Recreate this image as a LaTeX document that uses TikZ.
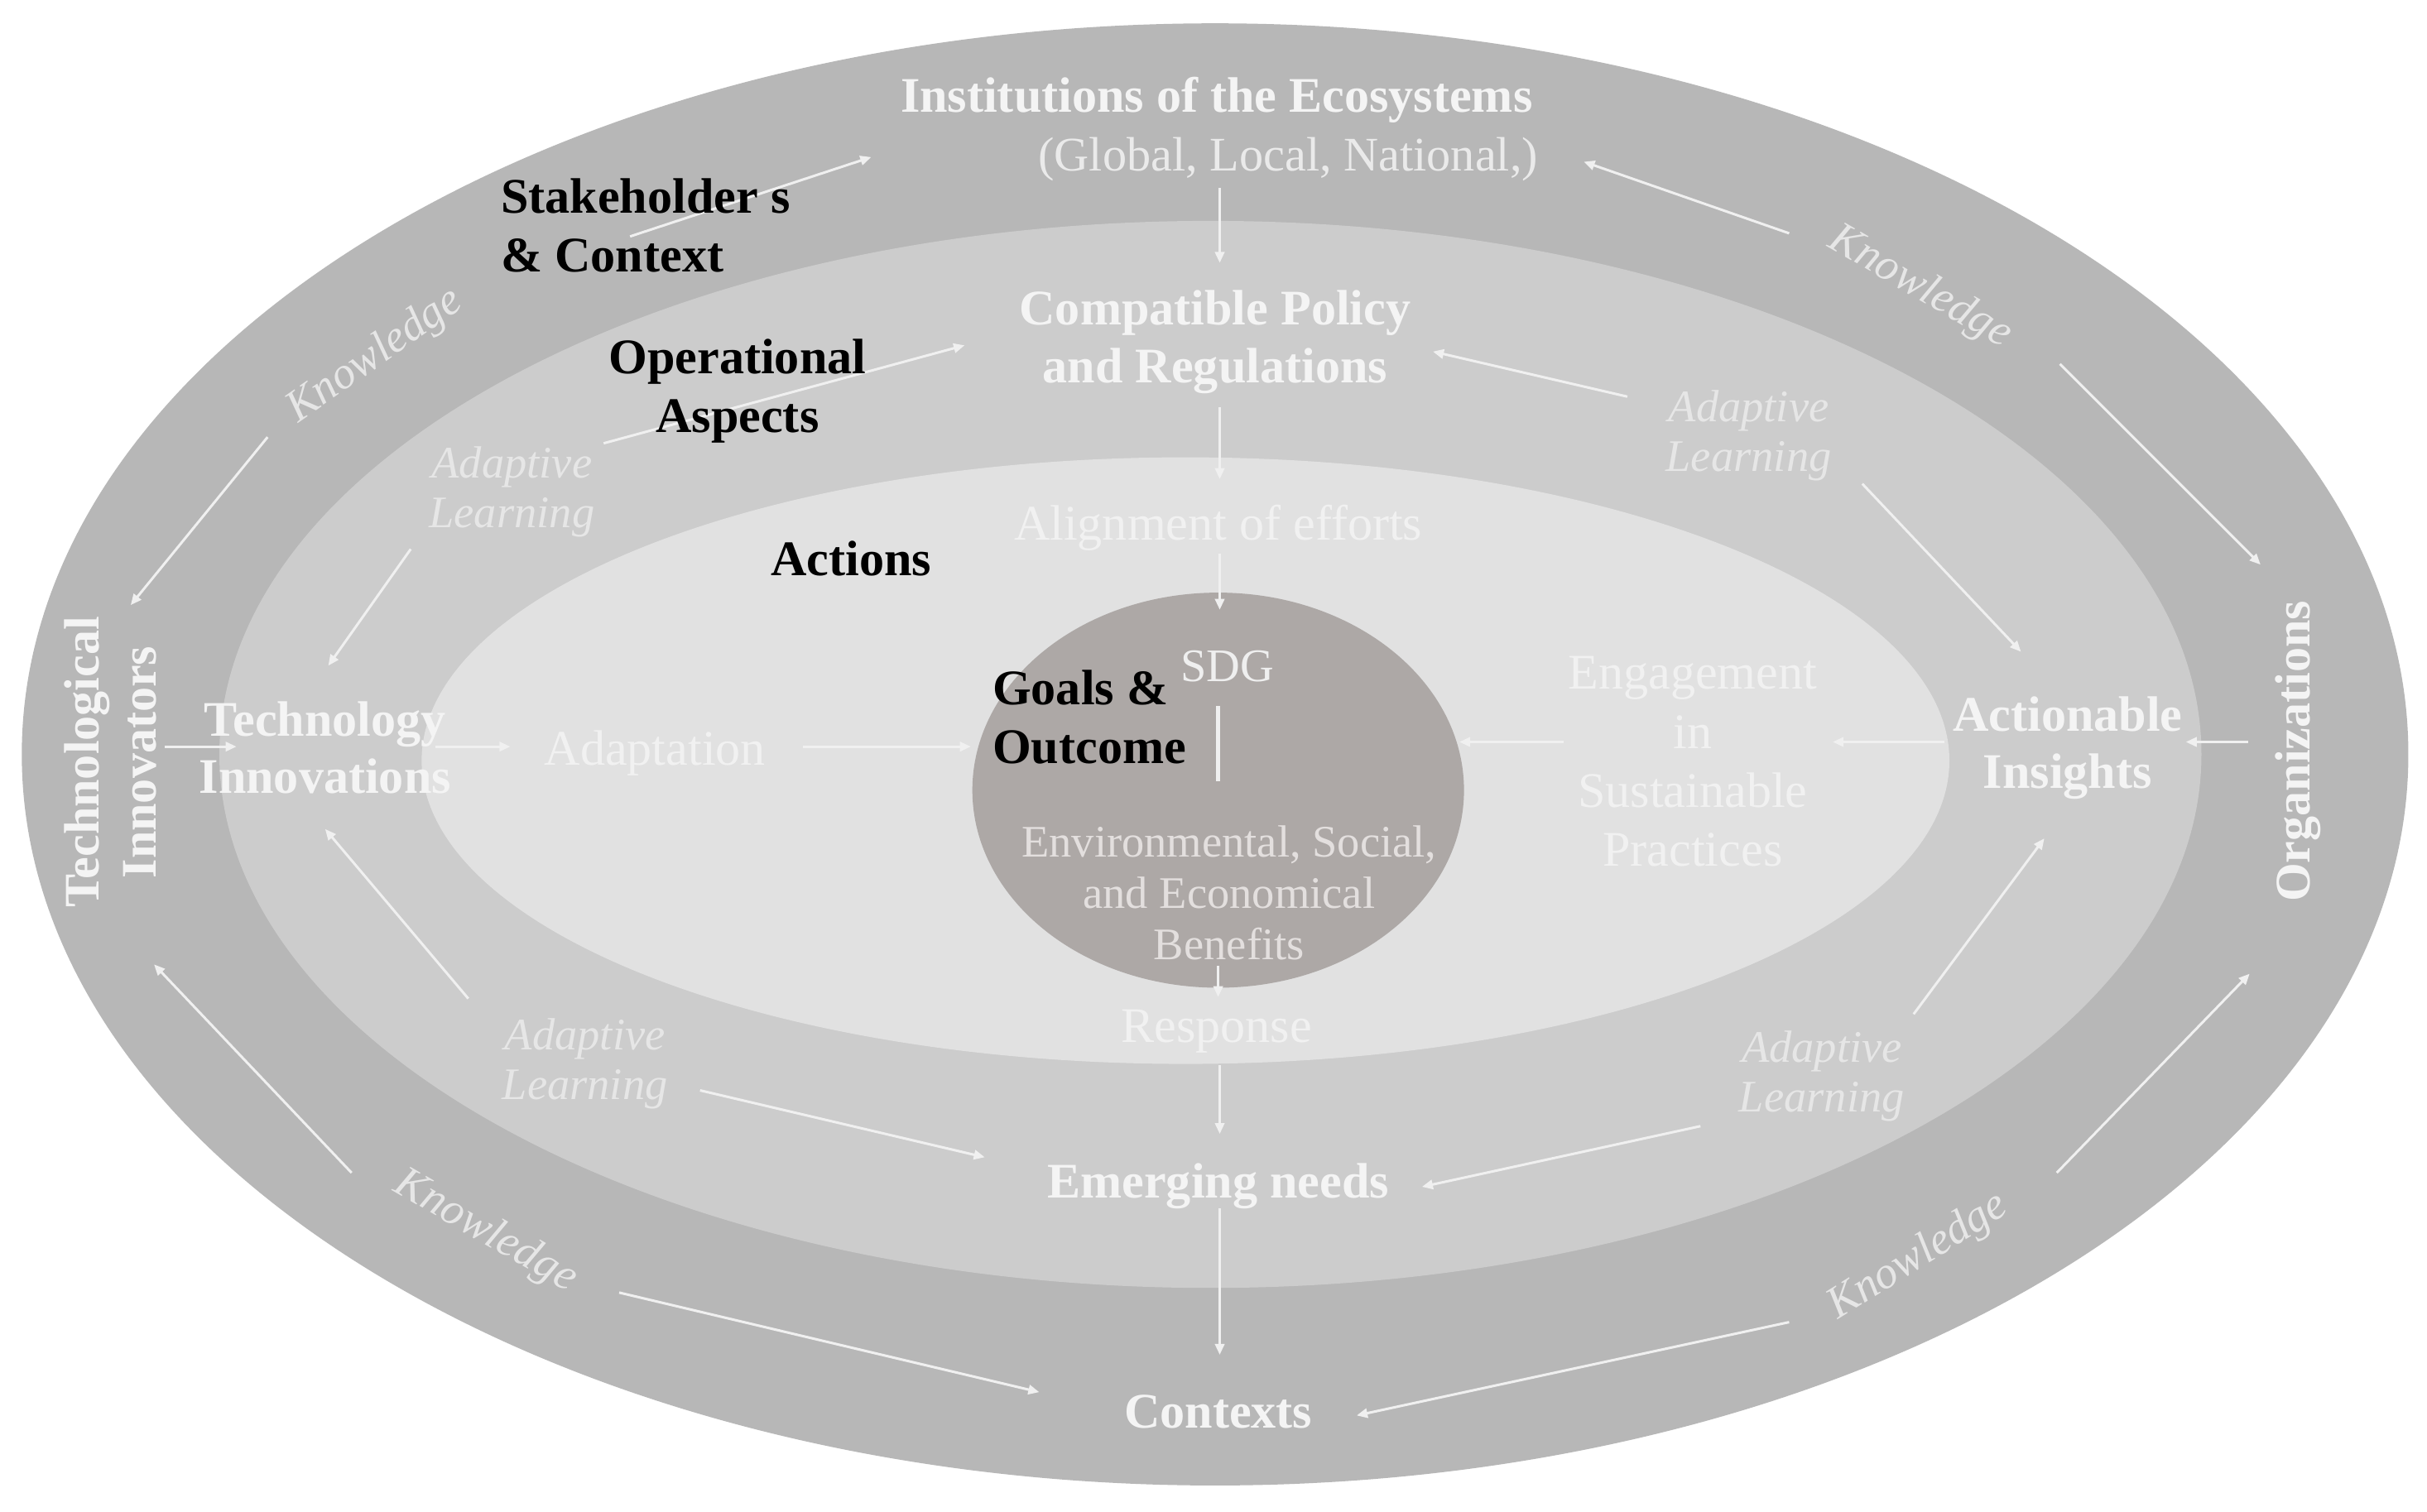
\documentclass[tikz,border=0pt]{standalone}
\usepackage{fontspec}
\setmainfont{Liberation Serif}
\usetikzlibrary{arrows.meta}
\definecolor{ringA}{HTML}{B7B7B7}
\definecolor{ringB}{HTML}{CCCCCC}
\definecolor{ringC}{HTML}{E1E1E1}
\definecolor{core}{HTML}{ADA8A6}
\definecolor{wtxt}{HTML}{F4F4F4}
\definecolor{ltxt}{HTML}{F1F1F1}
\definecolor{globtxt}{HTML}{EAEAEA}
\definecolor{altxt}{HTML}{E6E6E6}
\definecolor{kntxt}{HTML}{E6E6E6}
\definecolor{ctxt}{HTML}{E3DFDE}
\definecolor{sdgtxt}{HTML}{EFEFEF}
\definecolor{arrcol}{HTML}{F0F0F0}
\tikzset{
  txt/.style={inner sep=0pt, outer sep=0pt},
  bw/.style={txt, text=wtxt, font=\fontsize{32}{37}\selectfont\bfseries},
  bk/.style={txt, text=black, font=\fontsize{32}{38}\selectfont\bfseries},
  rw/.style={txt, text=ltxt, font=\fontsize{32}{38}\selectfont},
  ci/.style={txt, text=ctxt, font=\fontsize{29}{33}\selectfont},
  al/.style={txt, text=altxt, font=\fontsize{29}{32}\selectfont\itshape},
  kn/.style={txt, text=kntxt, font=\fontsize{29}{32}\selectfont\itshape},
  arr/.style={draw=arrcol, line width=1.6pt, -{Triangle[length=7pt,width=6pt]}},
  plain/.style={draw=arrcol, line width=2.4pt},
}
\begin{document}
\begin{tikzpicture}[x=1pt,y=-1pt]
\useasboundingbox (0,0) rectangle (1560,972);
\fill[white] (0,0) rectangle (1560,972);
% rings
\fill[ringA] (781,485) ellipse [x radius=767pt, y radius=470pt];
\fill[ringB] (778,485) ellipse [x radius=637pt, y radius=343pt];
\fill[ringC] (762,489) ellipse [x radius=491pt, y radius=195pt];
\fill[core] (783,508) ellipse [x radius=158pt, y radius=127pt];

% arrow end points
\coordinate (stA) at (405,152);   \coordinate (stB) at (560,101);
\coordinate (opA) at (388,285);   \coordinate (opB) at (620,222);
\coordinate (kulA) at (172,281);  \coordinate (kulB) at (84,389);
\coordinate (aulA) at (264,353);  \coordinate (aulB) at (211,428);
\coordinate (tiA) at (106,480);   \coordinate (tiB) at (152,480);
\coordinate (teA) at (280,480);   \coordinate (teB) at (328,480);
\coordinate (adA) at (516,480);   \coordinate (adB) at (624,480);
\coordinate (allA) at (301,642);  \coordinate (allB) at (209,533);
\coordinate (kllA) at (226,754);  \coordinate (kllB) at (99,620);
\coordinate (all2A) at (450,701); \coordinate (all2B) at (633,744);
\coordinate (kll2A) at (398,831); \coordinate (kll2B) at (668,895);
\coordinate (v1A) at (784,121);   \coordinate (v1B) at (784,169);
\coordinate (v2A) at (784,262);   \coordinate (v2B) at (784,308);
\coordinate (v3A) at (784,356);   \coordinate (v3B) at (784,392);
\coordinate (v4A) at (783,454);   \coordinate (v4B) at (783,502);
\coordinate (v5A) at (783,621);   \coordinate (v5B) at (783,641);
\coordinate (v6A) at (784,685);   \coordinate (v6B) at (784,729);
\coordinate (v7A) at (784,777);   \coordinate (v7B) at (784,871);
\coordinate (kurA) at (1150,150); \coordinate (kurB) at (1018,104);
\coordinate (kur2A) at (1324,234);\coordinate (kur2B) at (1453,363);
\coordinate (aurA) at (1046,255); \coordinate (aurB) at (921,226);
\coordinate (aur2A) at (1197,311);\coordinate (aur2B) at (1299,419);
\coordinate (orA) at (1445,477);  \coordinate (orB) at (1405,477);
\coordinate (acA) at (1250,477);  \coordinate (acB) at (1178,477);
\coordinate (enA) at (1005,477);  \coordinate (enB) at (938,477);
\coordinate (alrA) at (1230,652); \coordinate (alrB) at (1314,539);
\coordinate (alr2A) at (1093,724);\coordinate (alr2B) at (914,763);
\coordinate (klrA) at (1150,850); \coordinate (klrB) at (872,910);
\coordinate (klr2A) at (1322,754);\coordinate (klr2B) at (1446,626);

% connectors
\draw[arr] (stA) -- (stB);
\draw[arr] (opA) -- (opB);
\draw[arr] (kulA) -- (kulB);
\draw[arr] (aulA) -- (aulB);
\draw[arr] (tiA) -- (tiB);
\draw[arr] (teA) -- (teB);
\draw[arr] (adA) -- (adB);
\draw[arr] (allA) -- (allB);
\draw[arr] (kllA) -- (kllB);
\draw[arr] (all2A) -- (all2B);
\draw[arr] (kll2A) -- (kll2B);
\draw[arr] (v1A) -- (v1B);
\draw[arr] (v2A) -- (v2B);
\draw[arr] (v3A) -- (v3B);
\draw[plain] (v4A) -- (v4B);
\draw[arr] (v5A) -- (v5B);
\draw[arr] (v6A) -- (v6B);
\draw[arr] (v7A) -- (v7B);
\draw[arr] (kurA) -- (kurB);
\draw[arr] (kur2A) -- (kur2B);
\draw[arr] (aurA) -- (aurB);
\draw[arr] (aur2A) -- (aur2B);
\draw[arr] (orA) -- (orB);
\draw[arr] (acA) -- (acB);
\draw[arr] (enA) -- (enB);
\draw[arr] (alrA) -- (alrB);
\draw[arr] (alr2A) -- (alr2B);
\draw[arr] (klrA) -- (klrB);
\draw[arr] (klr2A) -- (klr2B);

% outer ring texts
\node[bw, anchor=base] (inst) at (782,72) {Institutions of the Ecosystems};
\node[txt, text=globtxt, font=\fontsize{31}{37}\selectfont, anchor=base] (glob) at (828,110) {(Global, Local, National,)};
\node[bk, align=left, anchor=base west] (stake) at (322,175) {Stakeholder s\\\& Context};
\node[bw, rotate=90, align=center] (techinn) at (71,490) {Technological\\Innovators};
\node[bw, rotate=90] (orgs) at (1477,483) {Organizations};
\node[bw, anchor=base] (ctx) at (783,918) {Contexts};
\node[kn, rotate=35] (knUL) at (241,229) {Knowledge};
\node[kn, rotate=-30] (knUR) at (1234,185) {Knowledge};
\node[kn, rotate=-30] (knLL) at (312,792) {Knowledge};
\node[kn, rotate=32] (knLR) at (1233,808) {Knowledge};

% second ring texts
\node[bw, align=center, anchor=base] (policy) at (781,246) {Compatible Policy\\and Regulations};
\node[bk, align=center, anchor=base] (oper) at (474,278) {Operational\\Aspects};
\node[bw, align=center, anchor=base] (techno) at (209,510) {Technology\\Innovations};
\node[bw, align=center, anchor=base] (insight) at (1329,507) {Actionable\\Insights};
\node[bw, anchor=base] (emerg) at (783,770) {Emerging needs};
\node[al, align=center, anchor=base] (alUL) at (329,339) {Adaptive\\Learning};
\node[al, align=center, anchor=base] (alUR) at (1124,303) {Adaptive\\Learning};
\node[al, align=center, anchor=base] (alLL) at (376,707) {Adaptive\\Learning};
\node[al, align=center, anchor=base] (alLR) at (1171,715) {Adaptive\\Learning};

% third ring texts
\node[rw, anchor=base] (align) at (783,347) {Alignment of efforts};
\node[bk, anchor=base] (actions) at (547,370) {Actions};
\node[rw, anchor=base] (adapt) at (421,492) {Adaptation};
\node[rw, align=center, anchor=base] (engage) at (1088,557) {Engagement\\in\\Sustainable\\Practices};
\node[rw, anchor=base] (resp) at (782,670) {Response};

% core texts
\node[txt, text=sdgtxt, font=\fontsize{30}{36}\selectfont, anchor=base] (sdg) at (789,438) {SDG};
\node[bk, align=left, anchor=base west] (goals) at (638,491) {Goals \&\\Outcome};
\node[ci, align=center, anchor=base] (benef) at (790,617) {Environmental, Social,\\and Economical\\Benefits};
\end{tikzpicture}
\end{document}
